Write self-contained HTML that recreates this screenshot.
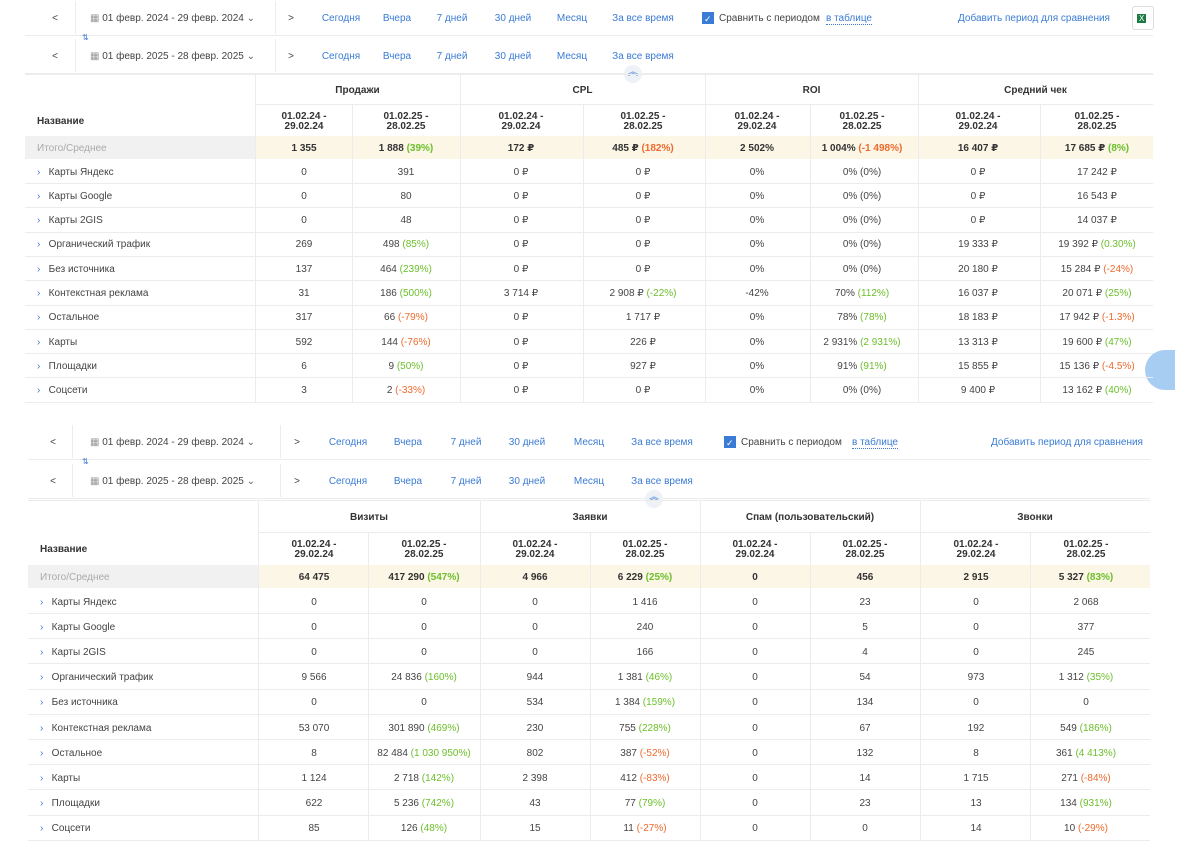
<!DOCTYPE html>
<html><head><meta charset="utf-8">
<style>
body{margin:0;width:1187px;height:867px;background:#fff;position:relative;overflow:hidden;font-family:"Liberation Sans","DejaVu Sans",sans-serif;color:#444;}
.a{position:absolute;white-space:nowrap;font-size:10px;line-height:12px;}
.c{transform:translateX(-50%);text-align:center;}
.l{color:#3a7bd5;}
.g{color:#6cbf2a;}
.o{color:#ee6a2c;}
.b{font-weight:bold;color:#333;}
.hl{position:absolute;height:1px;background:#ececec;}
.vl{position:absolute;width:1px;background:#ececec;}
.bg{position:absolute;}
</style></head><body>
<div class="bg" style="left:1145px;top:350px;width:30px;height:40px;border-radius:20px 0 0 20px;background:#a8cdf2;"></div>
<div id="root"></div>
<script>
var R=document.getElementById('root'),h='';
function t(x,y,s,cls,c){h+='<div class="a '+(cls||'')+(c?' c':'')+'" style="left:'+x+'px;top:'+(y-4.5)+'px">'+s+'</div>';}
function hl(x,y,w){h+='<div class="hl" style="left:'+x+'px;top:'+y+'px;width:'+w+'px"></div>';}
function vl(x,y,hh){h+='<div class="vl" style="left:'+x+'px;top:'+y+'px;height:'+hh+'px"></div>';}
function rect(x,y,w,hh,c){h+='<div class="bg" style="left:'+x+'px;top:'+y+'px;width:'+w+'px;height:'+hh+'px;background:'+c+'"></div>';}
function val(s,bold){var p=s.split('|');var r=(bold?'<b style="color:#333">':'')+p[0]+(bold?'</b>':'');if(p[1])r+='<span class="'+p[2]+(bold?'" style="font-weight:bold':'')+'">('+p[1]+')</span>';return r;}
function toolbar(o){
 var ys=[o.y1,o.y2],dates=['01 февр. 2024 - 29 февр. 2024','01 февр. 2025 - 28 февр. 2025'];
 for(var i=0;i<2;i++){var y=ys[i];
  t(o.lt,y,'&lt;','',1);
  t(o.cal,y,'<span style="color:#999">&#9638;</span> '+dates[i]+' <span style="color:#666">&#8964;</span>','');
  t(o.gt,y,'&gt;','',1);
  vl(o.v1,y-16,33);vl(o.v2,y-16,33);
  var L=['Сегодня','Вчера','7 дней','30 дней','Месяц','За все время'];
  for(var k=0;k<6;k++)t(o.links[k],y,L[k],'l',1);
 }
 hl(o.x0,o.y1+18,o.x1-o.x0);hl(o.x0,o.y2+18,o.x1-o.x0);
 t(o.cal-8,(o.y1+o.y2)/2,'<span style="color:#3a7bd5;font-size:8px">⇅</span>','');
 rect(o.chk,o.y1-5,12,12,'#3a7bd5');t(o.chk+2,o.y1,'<span style="color:#fff;font-size:9px">✓</span>','');
 t(o.chk+17,o.y1,'Сравнить с периодом','');
 t(o.tab,o.y1,'<span style="border-bottom:1px dotted #3a7bd5">в таблице</span>','l');
 t(o.add,o.y1,'Добавить период для сравнения','l',1);
 h+='<div class="bg" style="left:'+(o.arr-9)+'px;top:'+(o.y2+10)+'px;width:18px;height:18px;border-radius:9px;background:#eef1f5;color:#3a7bd5;font-size:10px;text-align:center;line-height:16px">︽</div>';
}
function table(o){
 var x0=o.x0,x1=o.x1;
 hl(x0,o.gy0,x1-x0);hl(o.cb[0],o.gy1,x1-o.cb[0]);hl(x0,o.sy1,x1-x0);
 rect(x0,o.sy1,o.cb[0]-x0,o.ty1-o.sy1,'#f1f1f1');
 rect(o.cb[0],o.sy1,x1-o.cb[0],o.ty1-o.sy1,'#fbf6e6');
 for(var i=0;i<o.cb.length;i++){var full=(i%2==0);vl(o.cb[i],full?o.gy0:o.gy1,o.sy1-(full?o.gy0:o.gy1));}
 for(var i=0;i<o.cb.length;i++)vl(o.cb[i],o.sy1,o.rows[o.rows.length-1]+12-o.sy1);
 for(var g=0;g<4;g++)t((o.cb[2*g]+(o.cb[2*g+2]||x1))/2,(o.gy0+o.gy1)/2,o.groups[g],'b',1);
 t(x0+12,(o.gy1+o.sy1)/2,'Название','b');
 for(var k=0;k<8;k++){var cx=o.cc[k];var a=k%2==0?['01.02.24 -','29.02.24']:['01.02.25 -','28.02.25'];t(cx,(o.gy1+o.sy1)/2-5,a[0],'b',1);t(cx,(o.gy1+o.sy1)/2+5,a[1],'b',1);}
 t(x0+12,o.tc,'<span style="color:#aaa">Итого/Среднее</span>','');
 for(var k=0;k<8;k++)t(o.cc[k],o.tc,val(o.total[k],1),'',1);
 var N=['Карты Яндекс','Карты Google','Карты 2GIS','Органический трафик','Без источника','Контекстная реклама','Остальное','Карты','Площадки','Соцсети'];
 for(var r=0;r<10;r++){var y=o.rows[r];
  t(x0+12,y,'<span style="color:#3a7bd5">&#8250;</span>&nbsp;&nbsp;&nbsp;'+N[r],'');
  hl(x0,y+12,x1-x0);
  for(var k=0;k<8;k++)t(o.cc[k],y,val(o.data[r][k]),'',1);}
}
toolbar({y1:17,y2:55,x0:25,x1:1153,lt:55,cal:90,gt:291,v1:75,v2:275,links:[341,397,452,513,572,643],chk:702,tab:826,add:1034,arr:633});
h+='<div class="bg" style="left:1132px;top:6px;width:20px;height:22px;border:1px solid #ddd;border-radius:3px"></div>';t(1137,17,'<span style="color:#fff;background:#1e7a45;font-size:8px;padding:0 2px">X</span>','');
var r1=[];for(var i=0;i<10;i++)r1.push(171+i*24.3);
table({x0:25,x1:1153,gy0:74,gy1:104,sy1:136,ty1:159,tc:147,cb:[255,352,460,583,705,810,918,1040],cc:[304,406,521,643,757,862,978,1097],groups:['Продажи','CPL','ROI','Средний чек'],rows:r1,
total:['1 355','1 888 |39%|g','172 ₽','485 ₽ |182%|o','2 502%','1 004% |-1 498%|o','16 407 ₽','17 685 ₽ |8%|g'],
data:[['0','391','0 ₽','0 ₽','0%','0% (0%)','0 ₽','17 242 ₽'],
['0','80','0 ₽','0 ₽','0%','0% (0%)','0 ₽','16 543 ₽'],
['0','48','0 ₽','0 ₽','0%','0% (0%)','0 ₽','14 037 ₽'],
['269','498 |85%|g','0 ₽','0 ₽','0%','0% (0%)','19 333 ₽','19 392 ₽ |0.30%|g'],
['137','464 |239%|g','0 ₽','0 ₽','0%','0% (0%)','20 180 ₽','15 284 ₽ |-24%|o'],
['31','186 |500%|g','3 714 ₽','2 908 ₽ |-22%|g','-42%','70% |112%|g','16 037 ₽','20 071 ₽ |25%|g'],
['317','66 |-79%|o','0 ₽','1 717 ₽','0%','78% |78%|g','18 183 ₽','17 942 ₽ |-1.3%|o'],
['592','144 |-76%|o','0 ₽','226 ₽','0%','2 931% |2 931%|g','13 313 ₽','19 600 ₽ |47%|g'],
['6','9 |50%|g','0 ₽','927 ₽','0%','91% |91%|g','15 855 ₽','15 136 ₽ |-4.5%|o'],
['3','2 |-33%|o','0 ₽','0 ₽','0%','0% (0%)','9 400 ₽','13 162 ₽ |40%|g']]});
toolbar({y1:441,y2:480,x0:28,x1:1150,lt:53,cal:90,gt:297,v1:72,v2:280,links:[348,408,466,527,589,662],chk:724,tab:852,add:1067,arr:654});
var r2=[];for(var i=0;i<10;i++)r2.push(601+i*25.2);
table({x0:28,x1:1150,gy0:500,gy1:532,sy1:565,ty1:588,tc:576,cb:[258,368,480,590,700,810,920,1030],cc:[314,424,535,645,755,865,976,1086],groups:['Визиты','Заявки','Спам (пользовательский)','Звонки'],rows:r2,
total:['64 475','417 290 |547%|g','4 966','6 229 |25%|g','0','456','2 915','5 327 |83%|g'],
data:[['0','0','0','1 416','0','23','0','2 068'],
['0','0','0','240','0','5','0','377'],
['0','0','0','166','0','4','0','245'],
['9 566','24 836 |160%|g','944','1 381 |46%|g','0','54','973','1 312 |35%|g'],
['0','0','534','1 384 |159%|g','0','134','0','0'],
['53 070','301 890 |469%|g','230','755 |228%|g','0','67','192','549 |186%|g'],
['8','82 484 |1 030 950%|g','802','387 |-52%|o','0','132','8','361 |4 413%|g'],
['1 124','2 718 |142%|g','2 398','412 |-83%|o','0','14','1 715','271 |-84%|o'],
['622','5 236 |742%|g','43','77 |79%|g','0','23','13','134 |931%|g'],
['85','126 |48%|g','15','11 |-27%|o','0','0','14','10 |-29%|o']]});
R.innerHTML=h;
</script>
</body></html>
